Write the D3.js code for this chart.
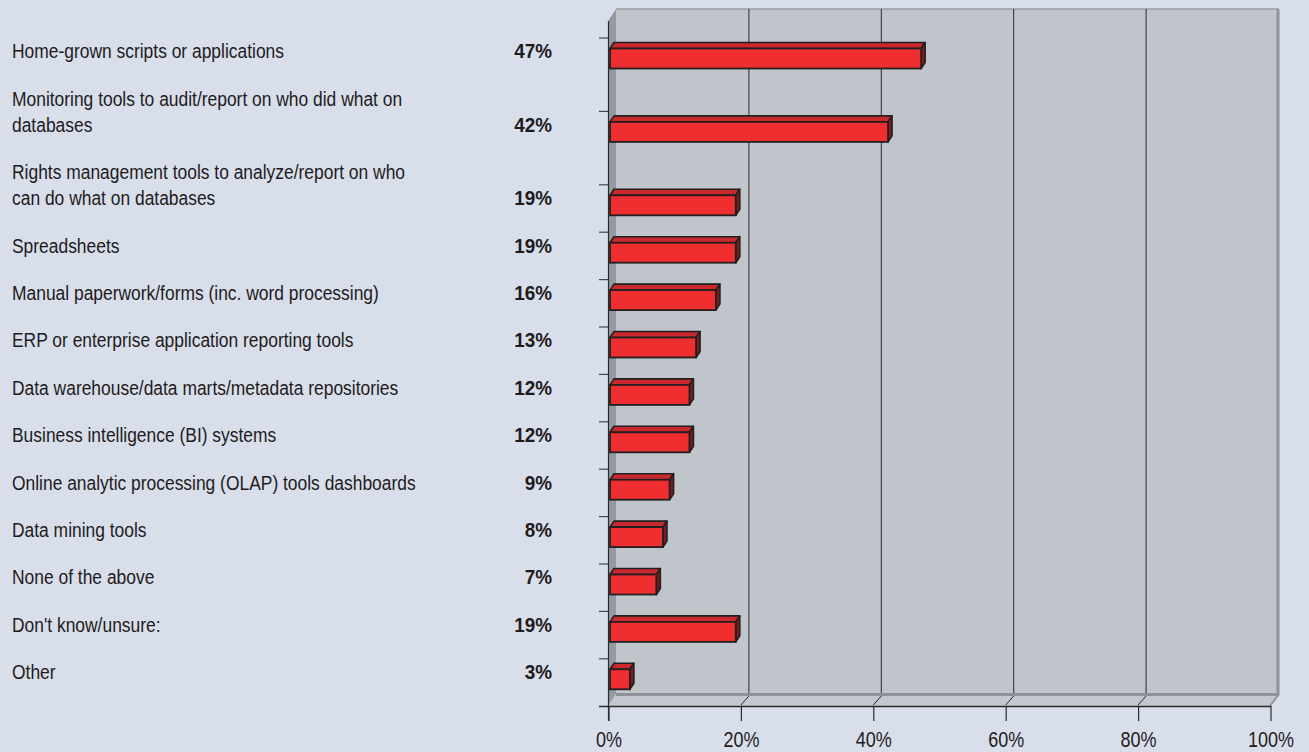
<!DOCTYPE html>
<html>
<head>
<meta charset="utf-8">
<script src="https://cdn.jsdelivr.net/npm/d3@7/dist/d3.min.js"></script>
<style>
  html, body { margin: 0; padding: 0; background: #d8dfeb; }
  svg { display: block; }
  .lbl, .val, .tick-lbl {
    font-family: "Liberation Sans", Arial, sans-serif;
    fill: #1f1b1c;
  }
</style>
</head>
<body>
<svg id="chart" width="1309" height="752"></svg>
<script>
// Survey answers (label lines separated by "\n") and share of respondents, %
const categories = [
  "Home-grown scripts or applications",
  "Monitoring tools to audit/report on who did what on\ndatabases",
  "Rights management tools to analyze/report on who\ncan do what on databases",
  "Spreadsheets",
  "Manual paperwork/forms (inc. word processing)",
  "ERP or enterprise application reporting tools",
  "Data warehouse/data marts/metadata repositories",
  "Business intelligence (BI) systems",
  "Online analytic processing (OLAP) tools dashboards",
  "Data mining tools",
  "None of the above",
  "Don't know/unsure:",
  "Other"
];
const values = [47, 42, 19, 19, 16, 13, 12, 12, 9, 8, 7, 19, 3];
const xTicks = [0, 20, 40, 60, 80, 100];

const svg = d3.select("#chart");

// Layout
const ROW = 47.4;        // pitch between single-line rows
const LINE = 26;         // extra height for each additional label line
const FIRST = 58.5;      // centre of first bar
const DX = 8, DY = -12;  // depth of the 3D box
const wallTop = 9, floorFront = 706, floorBack = floorFront + DY;
const NARROW = 0.83;     // horizontal squeeze giving a condensed face

const x = d3.scaleLinear().domain([0, 100]).range([608, 1270]);

// row centres follow the label line counts
const lines = categories.map(c => c.split("\n"));
let acc = 0;
const centres = lines.map((l, i) => {
  if (i > 0) acc += ROW + LINE * (l.length - 1);
  return FIRST + acc;
});
const y = d3.scaleOrdinal().domain(categories).range(centres);

// --- 3D frame ---
const g = svg.append("g");

// back wall
g.append("rect")
  .attr("x", x(0) + DX).attr("y", wallTop)
  .attr("width", x(100) - x(0)).attr("height", floorBack - wallTop)
  .attr("fill", "#c0c4cb");

// side wall
g.append("path")
  .attr("d", `M${x(0)},${wallTop - DY}L${x(0) + DX},${wallTop}L${x(0) + DX},${floorBack}L${x(0)},${floorFront}Z`)
  .attr("fill", "#949aa2");

// floor
g.append("path")
  .attr("d", `M${x(0)},${floorFront}L${x(0) + DX},${floorBack}L${x(100) + DX},${floorBack}L${x(100)},${floorFront}Z`)
  .attr("fill", "#c3c7ce");

// wall edges
g.append("line")
  .attr("x1", x(0) + DX).attr("x2", x(100) + DX + 1)
  .attr("y1", wallTop).attr("y2", wallTop)
  .attr("stroke", "#a7abb2").attr("stroke-width", 2);
g.append("line")
  .attr("x1", x(100) + DX).attr("x2", x(100) + DX)
  .attr("y1", wallTop).attr("y2", floorBack + 1)
  .attr("stroke", "#8d9198").attr("stroke-width", 3);
g.append("line")
  .attr("x1", x(0) + DX).attr("x2", x(100) + DX + 1)
  .attr("y1", floorBack + 0.5).attr("y2", floorBack + 0.5)
  .attr("stroke", "#8d9198").attr("stroke-width", 3);
g.append("line")
  .attr("x1", x(100) + DX + 1).attr("x2", x(100))
  .attr("y1", floorBack).attr("y2", floorFront)
  .attr("stroke", "#8d9198").attr("stroke-width", 2);

// gridlines on the back wall and their floor traces
const inner = xTicks.filter(v => v > 0 && v < 100);
g.selectAll(".grid").data(inner).join("line")
  .attr("class", "grid")
  .attr("x1", d => x(d) + DX + 0.5).attr("x2", d => x(d) + DX + 0.5)
  .attr("y1", wallTop).attr("y2", floorBack - 1)
  .attr("stroke", "#2b2b2b").attr("stroke-width", 1);
g.selectAll(".floorline").data(inner).join("line")
  .attr("class", "floorline")
  .attr("x1", d => x(d) + 0.5).attr("x2", d => x(d) + DX + 0.5)
  .attr("y1", floorFront - 1).attr("y2", floorBack + 2)
  .attr("stroke", "#2b2b2b").attr("stroke-width", 1);

// --- bars (front face, top face, right face) ---
const BH = 20, BDX = 4, BDY = -6, OFF = 2;
const bars = g.selectAll(".bar").data(categories.map((c, i) => ({ c, v: values[i] })))
  .join("g").attr("class", "bar");

bars.append("path")
  .attr("d", d => {
    const x0 = x(0) + OFF, x1 = x(d.v) + OFF, t = y(d.c) - BH / 2;
    return `M${x0},${t}L${x0 + BDX},${t + BDY}L${x1 + BDX},${t + BDY}L${x1},${t}Z`;
  })
  .attr("fill", "#c9282c").attr("stroke", "#231f20").attr("stroke-width", 1.6)
  .attr("stroke-linejoin", "round");

bars.append("path")
  .attr("d", d => {
    const x1 = x(d.v) + OFF, t = y(d.c) - BH / 2, b = y(d.c) + BH / 2;
    return `M${x1},${t}L${x1 + BDX},${t + BDY}L${x1 + BDX},${b + BDY}L${x1},${b}Z`;
  })
  .attr("fill", "#7e1d20").attr("stroke", "#231f20").attr("stroke-width", 1.6)
  .attr("stroke-linejoin", "round");

bars.append("rect")
  .attr("x", x(0) + OFF)
  .attr("y", d => y(d.c) - BH / 2)
  .attr("width", d => x(d.v) - x(0))
  .attr("height", BH)
  .attr("fill", "#ee2e2f").attr("stroke", "#231f20").attr("stroke-width", 1.8);

// --- axes ---
// left axis with a tick above each row
g.append("line")
  .attr("x1", x(0) + 0.5).attr("x2", x(0) + 0.5)
  .attr("y1", wallTop - DY).attr("y2", floorFront + 15)
  .attr("stroke", "#2b2b2b").attr("stroke-width", 1.2);
g.selectAll(".ytick").data(categories).join("line")
  .attr("class", "ytick")
  .attr("x1", x(0) - 9).attr("x2", x(0))
  .attr("y1", d => y(d) - 20.5).attr("y2", d => y(d) - 20.5)
  .attr("stroke", "#444").attr("stroke-width", 1.2);

// bottom axis
const xAxis = d3.axisBottom(x)
  .tickValues(xTicks)
  .tickSize(15)
  .tickSizeOuter(0)
  .tickFormat(d => d + "%");
const ax = svg.append("g")
  .attr("transform", `translate(0.5,${floorFront})`)
  .call(xAxis);
ax.attr("font-family", null).attr("font-size", null);
ax.select(".domain").attr("stroke", "#2b2b2b").attr("stroke-width", 1.5);
ax.selectAll(".tick line").attr("stroke", "#2b2b2b").attr("stroke-width", 1.2);
ax.selectAll(".tick text")
  .attr("class", "tick-lbl")
  .attr("y", 41.5)
  .attr("dy", 0)
  .attr("transform", "scale(0.8,1)")
  .style("font-size", "22.5px");
g.append("line")
  .attr("x1", x(0) - 9).attr("x2", x(0))
  .attr("y1", floorFront + 0.5).attr("y2", floorFront + 0.5)
  .attr("stroke", "#2b2b2b").attr("stroke-width", 1.5);

// --- category labels and values ---
const labels = svg.append("g");
categories.forEach((c, i) => {
  const ls = lines[i];
  const t = labels.append("text")
    .attr("class", "lbl")
    .attr("transform", `translate(12,0) scale(${NARROW},1)`)
    .style("font-size", "21px");
  ls.forEach((l, j) => {
    t.append("tspan")
      .attr("x", 0)
      .attr("y", y(c) - (ls.length - 1 - j) * LINE)
      .text(l);
  });
  labels.append("text")
    .attr("class", "val")
    .attr("transform", `translate(552,0) scale(0.9,1)`)
    .attr("x", 0)
    .attr("y", y(c))
    .attr("text-anchor", "end")
    .style("font-size", "21px")
    .style("font-weight", "bold")
    .text(values[i] + "%");
});
</script>
</body>
</html>
